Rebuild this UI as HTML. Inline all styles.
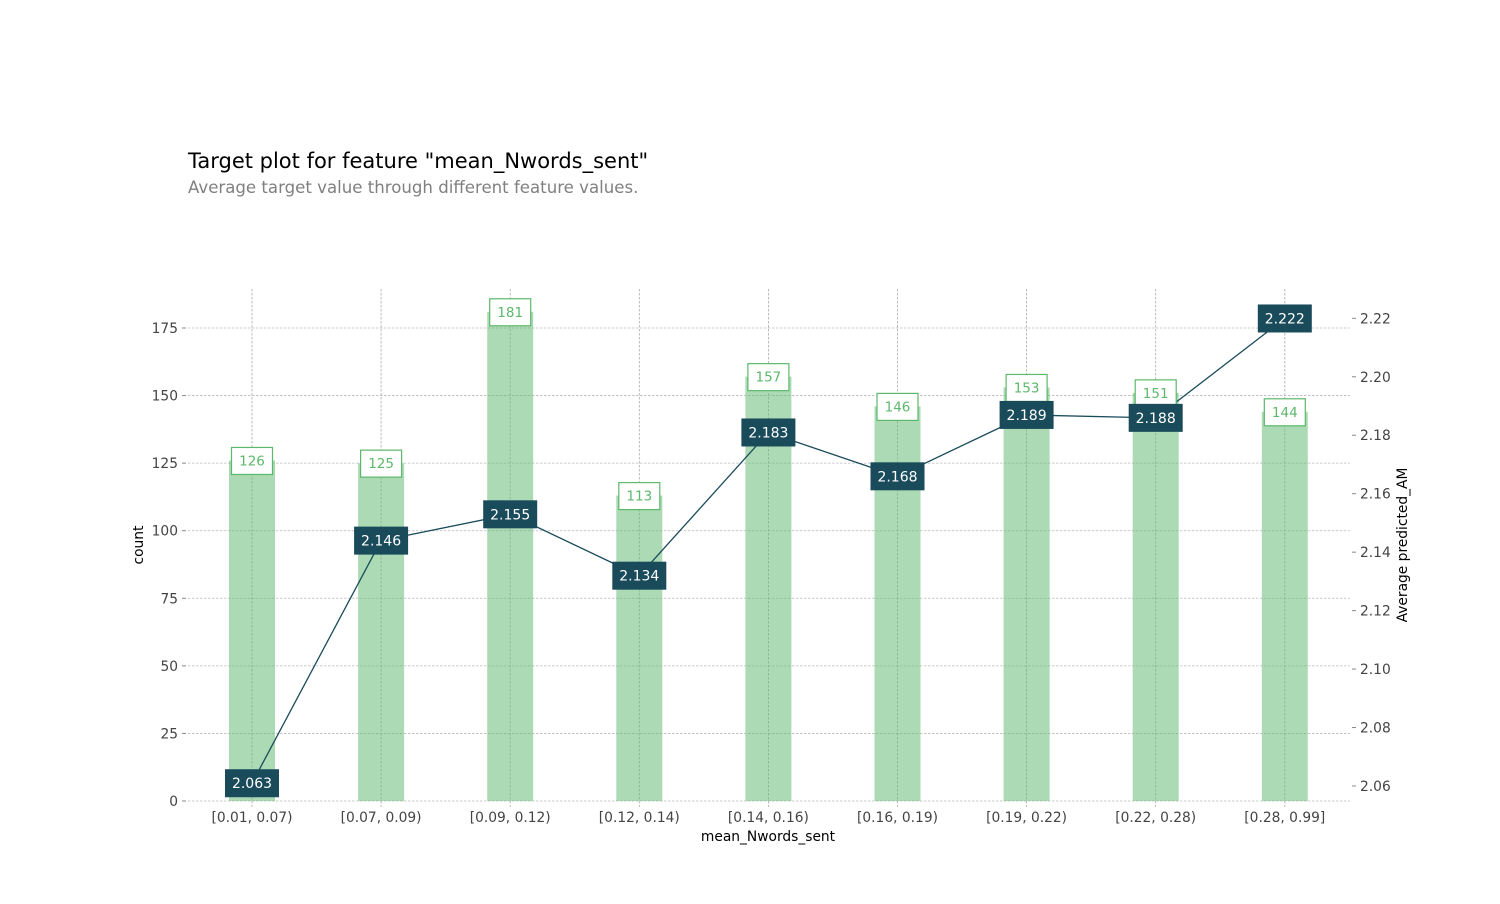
<!DOCTYPE html>
<html><head><meta charset="utf-8"><style>
body{margin:0;background:#fff;font-family:"DejaVu Sans","Liberation Sans",sans-serif}
svg text{font-family:"DejaVu Sans","Liberation Sans",sans-serif}
</style></head><body>
<svg id="c" width="1500" height="900">
<text x="188" y="168" font-size="21" fill="#000">Target plot for feature "mean_Nwords_sent"</text>
<text x="188" y="193" font-size="16.6" fill="#808080">Average target value through different feature values.</text>
<g id="grid"></g><g id="bars"></g><g id="line"></g><g id="labels"></g><g id="axes"></g>
<text x="768" y="841" font-size="13.8" text-anchor="middle">mean_Nwords_sent</text>
<text transform="translate(143,545) rotate(-90)" font-size="13.8" text-anchor="middle">count</text>
<text transform="translate(1407,545) rotate(-90)" font-size="13.8" text-anchor="middle">Average predicted_AM</text>
</svg>
<script>
const categories=["[0.01, 0.07)","[0.07, 0.09)","[0.09, 0.12)","[0.12, 0.14)","[0.14, 0.16)","[0.16, 0.19)","[0.19, 0.22)","[0.22, 0.28)","[0.28, 0.99]"];
const counts=[126,125,181,113,157,146,153,151,144];
const targets=[2.063,2.146,2.155,2.134,2.183,2.168,2.189,2.188,2.222];
const leftTicks=[0,25,50,75,100,125,150,175];
const rightTicks=[2.06,2.08,2.10,2.12,2.14,2.16,2.18,2.20,2.22];
const NS="http://www.w3.org/2000/svg";
const X0=188,X1=1350,YT=289,YB=801;
const xs=i=>252+i*129.1;
const yL=v=>801-v*(801-328)/175;
const yR=v=>786-(v-2.06)*2923+6;
const yRt=v=>786-(v-2.06)*2923;
function mk(p,tag,a,txt){const e=document.createElementNS(NS,tag);for(const k in a)e.setAttribute(k,a[k]);if(txt!==undefined)e.textContent=txt;document.getElementById(p).appendChild(e);return e;}
leftTicks.forEach(t=>{
 let e=mk('grid','line',{x1:X0,x2:X1,y1:yL(t),y2:yL(t),stroke:'#bbb','stroke-dasharray':'2.5,1.5','stroke-width':0.8});
 
 
 mk('axes','line',{x1:X0-6,x2:X0-2,y1:yL(t),y2:yL(t),stroke:'#888'});
 e=mk('axes','text',{x:X0-10,y:yL(t)+5,'font-size':13.8,fill:'#444','text-anchor':'end'},String(t));
 
 
});
rightTicks.forEach(t=>{
 mk('axes','line',{x1:X1+2,x2:X1+6,y1:yRt(t),y2:yRt(t),stroke:'#888'});
 const e=mk('axes','text',{x:X1+10,y:yRt(t)+5,'font-size':13.8,fill:'#444'},t.toFixed(2));
 
 
});
categories.forEach((c,i)=>{
 let e=mk('grid','line',{x1:xs(i),x2:xs(i),y1:YT,y2:YB+6,stroke:'#aaa','stroke-dasharray':'2.5,1.5','stroke-width':0.8});
 
 
 e=mk('axes','text',{x:xs(i),y:822,'font-size':13.8,fill:'#444','text-anchor':'middle'},c);
 
 
 e=mk('bars','rect',{x:xs(i)-23,y:yL(counts[i]),width:46,height:YB-yL(counts[i]),fill:'#66bb77','fill-opacity':0.55});
 
 
 const cy=yL(counts[i]);
 e=mk('labels','rect',{x:xs(i)-20.5,y:cy-13,width:41,height:27,fill:'#fff',stroke:'#5cb86a','stroke-width':1.2});
 
 
 e=mk('labels','text',{x:xs(i),y:cy+5,'font-size':13.5,fill:'#5cb86a','text-anchor':'middle'},String(counts[i]));
 
 
});
const pts=targets.map((v,i)=>xs(i)+','+yR(v)).join(' ');
let pl=mk('line','polyline',{points:pts,fill:'none',stroke:'#1a4b5b','stroke-width':1.3});


targets.forEach((v,i)=>{
 const y=yR(v);
 let e=mk('labels','rect',{x:xs(i)-27,y:y-14,width:54,height:28,fill:'#1a4b5b'});
 
 
 e=mk('labels','text',{x:xs(i),y:y+5,'font-size':14,fill:'#fff','text-anchor':'middle'},v.toFixed(3));
 
 
});
</script>
</body></html>
